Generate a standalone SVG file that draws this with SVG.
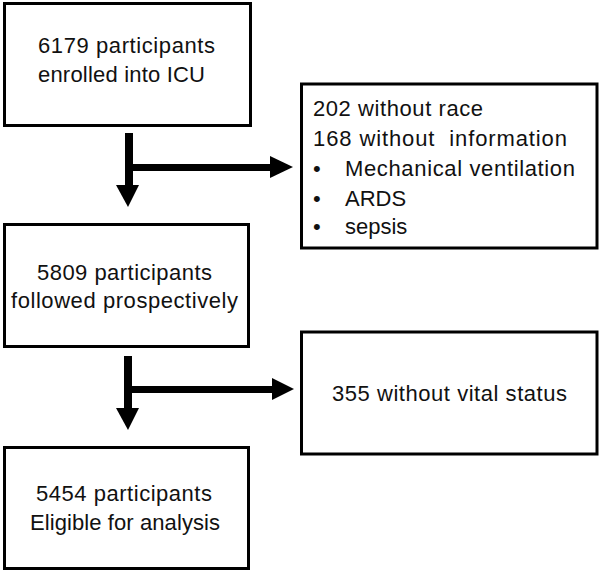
<svg xmlns="http://www.w3.org/2000/svg" width="600" height="572" viewBox="0 0 600 572">
<style>
.box{fill:#fff;stroke:#000;stroke-width:3}
.t{font-family:"Liberation Sans",Arial,sans-serif;font-size:22px;fill:#111;white-space:pre}
.ar{fill:#000;stroke:none}
</style>
<rect width="600" height="572" fill="#fff"/>
<g id="n1"><rect class="box" x="4.5" y="3.5" width="246" height="122"/>
<text class="t" x="38" y="53" textLength="177">6179 participants</text>
<text class="t" x="38" y="82" textLength="167">enrolled into ICU</text></g>
<g id="n2"><rect class="box" x="301.5" y="84" width="295.5" height="164"/>
<text class="t" x="313" y="116" textLength="170">202 without race</text>
<text class="t" x="313" y="146" textLength="254" xml:space="preserve">168 without  information</text>
<text class="t" x="313" y="176">•</text><text class="t" x="345" y="176" textLength="230">Mechanical ventilation</text>
<text class="t" x="313" y="206">•</text><text class="t" x="345" y="206">ARDS</text>
<text class="t" x="313" y="234">•</text><text class="t" x="345" y="234">sepsis</text></g>
<g id="n3"><rect class="box" x="4.5" y="224.5" width="244" height="122"/>
<text class="t" x="37" y="280" textLength="175">5809 participants</text>
<text class="t" x="11" y="308" textLength="227">followed prospectively</text></g>
<g id="n4"><rect class="box" x="301.5" y="332" width="295.5" height="122"/>
<text class="t" x="332" y="401" textLength="235">355 without vital status</text></g>
<g id="n5"><rect class="box" x="4.5" y="447.5" width="244" height="121"/>
<text class="t" x="36" y="501" textLength="176">5454 participants</text>
<text class="t" x="30" y="530" textLength="190">Eligible for analysis</text></g>
<g id="connectors">
<rect class="ar" x="125" y="133" width="8" height="54"/>
<polygon class="ar" points="116,185 139,185 128,207"/>
<rect class="ar" x="133" y="164" width="139" height="7"/>
<polygon class="ar" points="270,156 270,178 293,167"/>
<rect class="ar" x="124" y="356" width="8" height="54"/>
<polygon class="ar" points="116,408 139,408 128,430"/>
<rect class="ar" x="132" y="386" width="142" height="7"/>
<polygon class="ar" points="272,378 272,400 294,389"/>
</g>
</svg>
